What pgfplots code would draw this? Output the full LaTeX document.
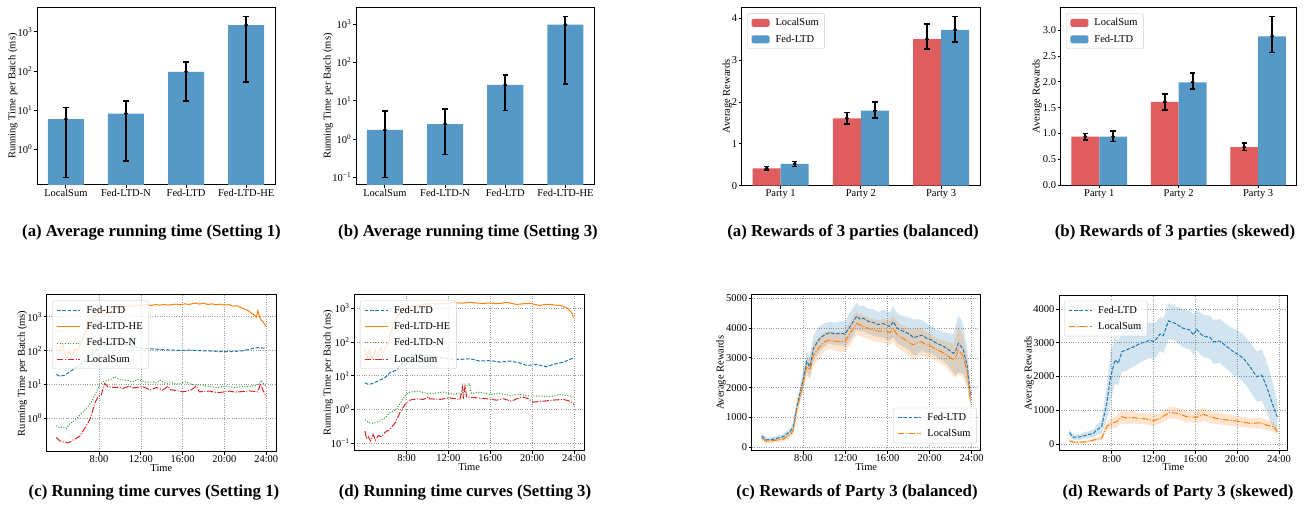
\documentclass[border=0pt]{standalone}
\usepackage{fontspec}
\setmainfont{Liberation Serif}
\usepackage{pgfplots}
\usepackage{pgfplotstable}
\pgfplotsset{compat=1.18}
\newcommand\tfont{\fontsize{10.5}{12}\selectfont}
\newcommand\capfont{\fontsize{16.8}{19}\selectfont\bfseries}
\definecolor{tabblue}{RGB}{31,119,180}
\definecolor{taborange}{RGB}{255,127,14}
\definecolor{tabgreen}{RGB}{44,160,44}
\definecolor{tabred}{RGB}{214,39,40}
\definecolor{barblue}{RGB}{86,152,198}
\definecolor{barred}{RGB}{223,93,94}
\tikzset{
  ldash/.style={dash pattern=on 3.7pt off 1.6pt},
  ldot/.style={dash pattern=on 1pt off 1.65pt},
  ldashdot/.style={dash pattern=on 6.4pt off 1.6pt on 1pt off 1.6pt},
}
\pgfplotsset{
  myax/.style={
    scale only axis, anchor=south west,
    axis line style={line width=1pt, black},
    tick align=outside, major tick length=3pt, minor tick length=0pt,
    xtick pos=left, ytick pos=left,
    tick style={black, line width=0.8pt},
    ticklabel style={font=\tfont},
    xticklabel style={inner sep=1pt},
    yticklabel style={inner sep=1.5pt},
    label style={font=\tfont},
    /pgf/number format/assume math mode=true,
    /pgf/number format/1000 sep={},
    legend cell align=left,
    legend style={font=\tfont, draw=black!20, rounded corners=2pt, fill=white,
      fill opacity=0.8, draw opacity=1, text opacity=1, inner xsep=4pt, inner ysep=3pt,
      row sep=3.6pt, column sep=4pt},
  },
  lineleg/.style={legend image code/.code={\draw[##1] (0pt,0pt) -- (23pt,0pt);}},
  errline/.style={black, line width=1.9pt, unbounded coords=jump, forget plot},
  errcap/.style={black, only marks, mark=-, mark size=2.7pt, mark options={line width=1.6pt}, forget plot},
  errdot/.style={black, only marks, mark=*, mark size=1.7pt, forget plot},
  mygrid/.style={grid=major, grid style={dash pattern=on 1pt off 1.4pt, black!40, line width=0.6pt}},
}

\pgfplotstableread{
t m
4.04 380
4.51 246
5.15 270
6.10 360
6.73 525
7.05 690
7.37 1360
7.84 2035
8.32 2875
8.63 2700
8.95 3320
9.58 3660
10.05 3780
10.53 3850
11.00 3800
11.49 3825
11.96 3800
12.44 4050
13.07 4400
13.40 4300
13.70 4330
14.20 4220
14.65 4185
15.10 4120
15.60 4150
16.24 4050
16.55 4215
16.90 4000
17.19 3940
17.65 3870
18.14 3790
18.45 3680
18.77 3710
19.25 3760
19.72 3660
20.20 3600
20.67 3490
21.15 3420
21.62 3320
22.26 3150
22.50 3250
22.73 3490
23.00 3380
23.21 3270
23.59 2700
23.90 1700
}\fedseven
\pgfplotstableread{
t m
4.04 300
4.51 190
5.15 225
6.10 270
6.73 415
7.05 560
7.37 1250
7.84 1925
8.32 2700
8.63 2600
8.95 3100
9.58 3380
10.05 3550
10.53 3600
11.00 3560
11.49 3545
11.96 3550
12.44 3825
13.07 4160
13.40 4100
13.70 4050
14.20 3990
14.65 3940
15.10 3900
15.60 3900
16.24 3850
16.55 3990
16.90 3780
17.19 3710
17.65 3620
18.14 3490
18.45 3440
18.77 3500
19.25 3540
19.72 3435
20.20 3380
20.67 3270
21.15 3200
21.62 3100
22.26 2930
22.50 3050
22.73 3270
23.00 3150
23.21 3040
23.59 2480
23.90 1530
}\locseven
\pgfplotstableread{
t m
3.95 335
4.33 200
4.97 215
5.61 265
6.25 315
6.57 420
7.04 515
7.52 1200
7.90 2000
8.32 2490
8.64 2390
8.96 2735
9.35 2780
9.75 2835
10.25 2900
10.71 2980
11.20 3020
11.67 3080
11.98 3030
12.30 3120
12.62 3260
12.94 3210
13.42 3650
14.06 3575
14.45 3500
14.85 3425
15.49 3380
15.81 3230
16.13 3400
16.45 3280
16.76 3200
17.40 3160
17.72 3030
18.36 3050
19.00 2885
19.63 2735
20.10 2650
20.59 2540
21.23 2290
21.86 1995
22.34 2045
22.82 1700
23.46 1105
23.84 800
}\fedeight
\pgfplotstableread{
t m
3.95 90
4.65 40
5.61 70
6.57 140
7.04 170
7.52 515
7.90 610
8.48 660
8.96 810
9.35 770
9.75 790
10.71 760
11.30 740
11.98 690
12.62 760
13.10 860
13.58 930
14.22 910
15.17 810
15.60 800
16.13 790
16.76 880
17.40 810
18.00 760
18.68 730
19.30 700
19.95 680
20.60 650
21.23 610
22.18 630
22.82 560
23.46 515
23.84 365
}\loceight

\begin{document}
\begin{tikzpicture}
\useasboundingbox (0pt,0pt) rectangle (1304pt,506pt);

% ================= Plot 1 =================
\begin{axis}[myax, at={(37pt,321pt)}, width=238pt, height=177.7pt,
  xmin=-0.48, xmax=3.48, ymode=log, log basis y=10, ymin=0.123, ymax=4200, log origin y=infty,
  xtick={0,1,2,3}, xticklabels={LocalSum,Fed-LTD-N,Fed-LTD,Fed-LTD-HE},
  ytick={1,10,100,1000}, yticklabels={10\textsuperscript{0},10\textsuperscript{1},10\textsuperscript{2},10\textsuperscript{3}},
  ylabel={Running Time per Batch (ms)}, ylabel style={at={(axis description cs:-0.101,0.5)}, anchor=center}]
\addplot[ybar, bar width=0.6, fill=barblue, draw=none] coordinates {(0,5.9) (1,8.2) (2,95) (3,1480)};
\addplot[errline] coordinates {(0,0.19) (0,11.7) (0,nan) (1,0.5) (1,17) (1,nan) (2,17) (2,170) (2,nan) (3,52) (3,2450)};
\addplot[errcap] coordinates {(0,0.19) (0,11.7) (1,0.5) (1,17) (2,17) (2,170) (3,52) (3,2450)};
\addplot[errdot] coordinates {(0,5.9) (1,8.2) (2,95) (3,1480)};
\end{axis}

% ================= Plot 2 =================
\begin{axis}[myax, at={(356pt,321pt)}, width=238.3pt, height=177.7pt,
  xmin=-0.48, xmax=3.48, ymode=log, log basis y=10, ymin=0.063, ymax=2740, log origin y=infty,
  xtick={0,1,2,3}, xticklabels={LocalSum,Fed-LTD-N,Fed-LTD,Fed-LTD-HE},
  ytick={0.1,1,10,100,1000}, yticklabels={10\textsuperscript{−1},10\textsuperscript{0},10\textsuperscript{1},10\textsuperscript{2},10\textsuperscript{3}},
  ylabel={Running Time per Batch (ms)}, ylabel style={at={(axis description cs:-0.1175,0.5)}, anchor=center}]
\addplot[ybar, bar width=0.6, fill=barblue, draw=none] coordinates {(0,1.72) (1,2.46) (2,25.7) (3,960)};
\addplot[errline] coordinates {(0,0.098) (0,5.4) (0,nan) (1,0.39) (1,5.96) (1,nan) (2,5.6) (2,47) (2,nan) (3,27.7) (3,1580)};
\addplot[errcap] coordinates {(0,0.098) (0,5.4) (1,0.39) (1,5.96) (2,5.6) (2,47) (3,27.7) (3,1580)};
\addplot[errdot] coordinates {(0,1.72) (1,2.46) (2,25.7) (3,960)};
\end{axis}

% ================= Plot 3 =================
\begin{axis}[myax, at={(741.7pt,320.3pt)}, width=238.3pt, height=178.4pt,
  xmin=-0.485, xmax=2.485, ymin=0, ymax=4.26,
  xtick={0,1,2}, xticklabels={Party 1,Party 2,Party 3}, ytick={0,1,2,3,4},
  ylabel={Average Rewards}, ylabel style={at={(axis description cs:-0.06,0.5)}, anchor=center},
  legend style={at={(axis description cs:0.0235,0.966)}, anchor=north west}]
\addplot[ybar, bar width=0.35, bar shift=-0.175, fill=barred, draw=none,
  legend image code/.code={\fill[barred, fill opacity=1] (0pt,-4pt) rectangle (18pt,4pt);}] coordinates {(0,0.416) (1,1.61) (2,3.50)};
\addlegendentry{LocalSum}
\addplot[ybar, bar width=0.35, bar shift=0.175, fill=barblue, draw=none,
  legend image code/.code={\fill[barblue, fill opacity=1] (0pt,-4pt) rectangle (18pt,4pt);}] coordinates {(0,0.52) (1,1.79) (2,3.72)};
\addlegendentry{Fed-LTD}
\addplot[errline] coordinates {(-0.175,0.38) (-0.175,0.46) (-0.175,nan) (0.825,1.48) (0.825,1.75) (0.825,nan) (1.825,3.26) (1.825,3.86) (1.825,nan) (0.175,0.46) (0.175,0.58) (0.175,nan) (1.175,1.61) (1.175,2.0) (1.175,nan) (2.175,3.43) (2.175,4.04)};
\addplot[errcap] coordinates {(-0.175,0.38) (-0.175,0.46) (0.825,1.48) (0.825,1.75) (1.825,3.26) (1.825,3.86) (0.175,0.46) (0.175,0.58) (1.175,1.61) (1.175,2.0) (2.175,3.43) (2.175,4.04)};
\addplot[errdot] coordinates {(-0.175,0.416) (0.825,1.61) (1.825,3.50) (0.175,0.52) (1.175,1.79) (2.175,3.72)};
\node[font=\fontsize{9.5}{11}\selectfont, anchor=base west, inner sep=0pt] at (rel axis cs:0,1) [yshift=0.6pt] {1e5};
\end{axis}

% ================= Plot 4 =================
\begin{axis}[myax, at={(1060.7pt,320.7pt)}, width=236pt, height=178pt,
  xmin=-0.485, xmax=2.485, ymin=0, ymax=3.44,
  xtick={0,1,2}, xticklabels={Party 1,Party 2,Party 3}, ytick={0,0.5,1,1.5,2,2.5,3},
  yticklabel style={/pgf/number format/.cd, fixed, fixed zerofill, precision=1},
  ylabel={Average Rewards}, ylabel style={at={(axis description cs:-0.1,0.5)}, anchor=center},
  legend style={at={(axis description cs:0.0235,0.966)}, anchor=north west}]
\addplot[ybar, bar width=0.35, bar shift=-0.175, fill=barred, draw=none,
  legend image code/.code={\fill[barred, fill opacity=1] (0pt,-4pt) rectangle (18pt,4pt);}] coordinates {(0,0.94) (1,1.61) (2,0.74)};
\addlegendentry{LocalSum}
\addplot[ybar, bar width=0.35, bar shift=0.175, fill=barblue, draw=none,
  legend image code/.code={\fill[barblue, fill opacity=1] (0pt,-4pt) rectangle (18pt,4pt);}] coordinates {(0,0.94) (1,1.99) (2,2.88)};
\addlegendentry{Fed-LTD}
\addplot[errline] coordinates {(-0.175,0.88) (-0.175,1.0) (-0.175,nan) (0.825,1.46) (0.825,1.77) (0.825,nan) (1.825,0.67) (1.825,0.82) (1.825,nan) (0.175,0.85) (0.175,1.05) (0.175,nan) (1.175,1.86) (1.175,2.17) (1.175,nan) (2.175,2.57) (2.175,3.26)};
\addplot[errcap] coordinates {(-0.175,0.88) (-0.175,1.0) (0.825,1.46) (0.825,1.77) (1.825,0.67) (1.825,0.82) (0.175,0.85) (0.175,1.05) (1.175,1.86) (1.175,2.17) (2.175,2.57) (2.175,3.26)};
\addplot[errdot] coordinates {(-0.175,0.94) (0.825,1.61) (1.825,0.74) (0.175,0.94) (1.175,1.99) (2.175,2.88)};
\node[font=\fontsize{9.5}{11}\selectfont, anchor=base west, inner sep=0pt] at (rel axis cs:0,1) [yshift=0.6pt] {1e5};
\end{axis}

% ================= Plot 5 =================
\begin{axis}[myax, mygrid, lineleg, at={(46.7pt,54.3pt)}, width=229.3pt, height=156.7pt,
  xmin=3, xmax=24.93, ymode=log, log basis y=10, ymin=0.105, ymax=4370,
  xtick={8,12,16,20,24}, xticklabels={8:00,12:00,16:00,20:00,24:00},
  ytick={1,10,100,1000}, yticklabels={10\textsuperscript{0},10\textsuperscript{1},10\textsuperscript{2},10\textsuperscript{3}},
  xlabel={Time}, xlabel style={at={(axis description cs:0.5,-0.102)}, anchor=center},
  ylabel={Running Time per Batch (ms)}, ylabel style={at={(axis description cs:-0.106,0.5)}, anchor=center},
  legend style={at={(axis description cs:0.0245,0.964)}, anchor=north west}]
\addplot[tabblue, ldash, line width=1pt] coordinates {(3.92,20) (4.24,17.7) (4.72,18.9) (5.2,23.8) (5.83,32) (6.47,44) (7.1,66) (7.59,93) (8.06,130) (8.7,163) (9.5,170) (10.3,156) (11.25,136) (12.2,116) (13.5,111) (14.3,106) (15.1,104) (15.9,101) (16.7,104) (17.5,100) (18.25,99) (19.05,96) (19.85,93) (20.8,94) (21.75,99) (22.3,108) (22.7,116) (23.35,124) (23.7,119) (24,116)};
\addlegendentry{Fed-LTD}
\addplot[taborange, line width=1pt] coordinates {(3.92,130) (4.08,105) (4.24,93) (4.4,140) (4.56,163) (4.72,80) (4.88,59) (5.04,85) (5.2,93) (5.36,68) (5.52,74) (5.68,105) (5.83,116) (6.0,95) (6.15,145) (6.31,180) (6.47,229) (6.63,300) (6.79,400) (6.95,520) (7.1,635) (7.35,800) (7.59,1000) (7.8,1150) (8.06,1250) (8.4,1450) (8.7,1580) (9.1,1700) (9.5,1750) (9.9,1850) (10.3,1970) (10.8,2000) (11.25,2050) (11.7,2150) (12.2,2200) (12.6,2250) (13.0,2150) (13.4,2280) (13.8,2200) (14.2,2300) (14.6,2200) (15.0,2280) (15.4,2350) (15.8,2250) (16.2,2400) (16.6,2300) (17.0,2450) (17.3,2550) (17.6,2350) (18.0,2500) (18.4,2300) (18.8,2400) (19.2,2250) (19.6,2350) (20.0,2200) (20.4,2280) (20.8,2050) (21.2,2100) (21.6,1850) (22.0,1650) (22.3,1500) (22.6,1250) (22.9,1100) (23.05,950) (23.2,1500) (23.35,1000) (23.5,800) (23.7,700) (24,510)};
\addlegendentry{Fed-LTD-HE}
\addplot[tabgreen, ldot, line width=1pt] coordinates {(3.92,0.61) (4.24,0.53) (4.56,0.57) (4.88,0.51) (5.2,0.71) (5.52,0.80) (5.83,0.95) (6.15,1.25) (6.47,1.55) (6.79,1.97) (7.27,3.1) (7.75,6.1) (8.06,9.6) (8.38,12.1) (8.86,13.5) (9.2,14.5) (9.5,17) (9.97,14.1) (10.6,13.5) (11.25,12.1) (11.7,14.1) (12.2,12.6) (12.7,11.5) (13.16,12.1) (13.5,11.2) (13.8,13.5) (14.4,10.8) (14.9,11.5) (15.4,10.3) (15.8,11.0) (16.3,12.1) (16.8,10.2) (17.3,9.6) (17.8,9.9) (18.25,9.0) (18.7,8.8) (19.2,8.2) (19.7,8.6) (20.2,9.0) (20.6,8.4) (21.1,8.2) (21.6,8.7) (22.1,8.6) (22.6,9.0) (23.03,9.6) (23.3,10.2) (23.5,12.6) (23.75,10.5) (24,8.6)};
\addlegendentry{Fed-LTD-N}
\addplot[tabred, ldashdot, line width=1pt] coordinates {(3.92,0.275) (4.24,0.22) (4.56,0.205) (5.04,0.19) (5.52,0.23) (5.83,0.26) (6.15,0.30) (6.63,0.51) (6.87,0.68) (7.1,0.89) (7.35,1.5) (7.59,2.8) (7.9,4.35) (8.22,4.9) (8.38,7.5) (8.54,10.8) (8.86,8.6) (9.5,8.2) (9.9,8.4) (10.3,7.7) (10.9,9.0) (11.2,8.0) (11.57,8.2) (12.2,8.6) (12.5,7.9) (12.84,6.9) (13.2,7.5) (13.5,8.2) (14.1,6.9) (14.6,9.0) (14.85,7.0) (15.1,6.9) (15.6,6.5) (16.0,6.1) (16.4,6.4) (16.8,6.9) (17.3,9.0) (17.6,6.1) (18.1,6.3) (18.6,6.4) (19.0,6.0) (19.5,5.8) (20.0,6.1) (20.5,6.4) (21.0,6.0) (21.4,6.1) (21.9,6.3) (22.4,6.5) (22.8,6.3) (23.2,6.1) (23.45,10.8) (23.67,6.9) (23.85,5.5) (24,4.2)};
\addlegendentry{LocalSum}
\end{axis}

% ================= Plot 6 =================
\begin{axis}[myax, mygrid, lineleg, at={(354.3pt,55.3pt)}, width=229.7pt, height=155.7pt,
  xmin=3, xmax=24.96, ymode=log, log basis y=10, ymin=0.06, ymax=2450,
  xtick={8,12,16,20,24}, xticklabels={8:00,12:00,16:00,20:00,24:00},
  ytick={0.1,1,10,100,1000}, yticklabels={10\textsuperscript{−1},10\textsuperscript{0},10\textsuperscript{1},10\textsuperscript{2},10\textsuperscript{3}},
  xlabel={Time}, xlabel style={at={(axis description cs:0.5,-0.103)}, anchor=center},
  ylabel={Running Time per Batch (ms)}, ylabel style={at={(axis description cs:-0.1145,0.5)}, anchor=center},
  legend style={at={(axis description cs:0.0245,0.964)}, anchor=north west}]
\addplot[tabblue, ldash, line width=1pt] coordinates {(4.02,6.2) (4.33,5.5) (4.8,5.9) (5.45,7.4) (5.93,8.7) (6.4,12.2) (7.04,14.6) (7.5,21.5) (8.0,30) (8.64,38) (9.27,42.6) (10.2,39.7) (11.2,34) (12.1,31.7) (13.1,30.3) (14.05,31.7) (15.0,27) (15.97,28.2) (16.9,25.2) (17.9,27) (18.8,24) (19.5,20) (20.4,21.5) (21.4,18.3) (22.0,21.5) (23.0,25.2) (23.6,30.3) (24.0,34)};
\addlegendentry{Fed-LTD}
\addplot[taborange, line width=1pt] coordinates {(4.02,60) (4.12,40) (4.24,34) (4.37,55) (4.5,60) (4.62,38) (4.75,30) (4.88,45) (5.0,57) (5.15,42) (5.3,36) (5.4,52) (5.5,67) (5.63,55) (5.77,48) (5.93,62) (6.09,75) (6.25,105) (6.4,148) (6.55,210) (6.7,295) (6.87,400) (7.04,520) (7.25,650) (7.5,810) (7.75,920) (8.0,1020) (8.5,1120) (8.96,1200) (9.6,1280) (10.2,1350) (10.8,1320) (11.5,1380) (12.1,1420) (12.8,1440) (13.4,1400) (14.05,1500) (14.6,1420) (15.3,1380) (16.0,1420) (16.6,1350) (17.1,1400) (17.56,1500) (18.0,1380) (18.5,1290) (19.2,1350) (19.8,1380) (20.3,1280) (20.75,1200) (21.2,1300) (21.7,1290) (22.2,1230) (22.66,1200) (23.0,1120) (23.3,1020) (23.55,880) (23.8,730) (23.97,520)};
\addlegendentry{Fed-LTD-HE}
\addplot[tabgreen, ldot, line width=1pt] coordinates {(4.02,0.5) (4.33,0.42) (4.8,0.385) (5.45,0.45) (5.93,0.57) (6.4,0.8) (7.04,1.0) (7.5,1.76) (7.94,2.78) (8.32,3.26) (8.96,3.5) (9.75,3.1) (10.55,2.97) (11.5,3.26) (12.46,2.78) (12.94,3.1) (13.26,2.78) (13.58,3.9) (13.74,4.9) (14.0,5.9) (14.2,2.97) (15.0,3.26) (15.97,2.78) (16.9,2.97) (17.9,2.6) (18.8,2.78) (19.8,2.48) (20.75,2.48) (21.7,2.37) (22.66,2.78) (23.3,2.6) (24.0,2.37)};
\addlegendentry{Fed-LTD-N}
\addplot[tabred, ldashdot, line width=1pt] coordinates {(4.02,0.228) (4.17,0.135) (4.33,0.16) (4.56,0.115) (4.8,0.18) (5.04,0.123) (5.3,0.17) (5.6,0.155) (5.93,0.21) (6.4,0.255) (6.9,0.40) (7.36,0.80) (7.84,1.4) (8.32,1.89) (8.96,2.07) (9.6,1.98) (10.1,2.37) (10.2,2.07) (11.2,1.98) (12.1,2.2) (13.1,1.98) (13.35,4.7) (13.42,2.07) (13.58,4.9) (13.74,2.37) (14.7,2.2) (15.65,2.07) (16.6,1.89) (17.25,2.07) (18.0,1.76) (19.0,2.37) (19.6,2.1) (20.1,1.65) (21.1,1.76) (22.0,1.89) (23.0,1.98) (23.6,1.76) (24.0,1.4)};
\addlegendentry{LocalSum}
\end{axis}

% ================= Plot 7 =================
\begin{axis}[myax, mygrid, lineleg, at={(751.7pt,55.3pt)}, width=229pt, height=155.7pt,
  xmin=3.09, xmax=24.86, ymin=-115, ymax=5110,
  xtick={8,12,16,20,24}, xticklabels={8:00,12:00,16:00,20:00,24:00},
  ytick={0,1000,2000,3000,4000,5000},
  xlabel={Time}, xlabel style={at={(axis description cs:0.5,-0.103)}, anchor=center},
  ylabel={Average Rewards}, ylabel style={at={(axis description cs:-0.134,0.5)}, anchor=center},
  legend style={at={(axis description cs:0.983,0.047)}, anchor=south east}]
\addplot[fill=tabblue, fill opacity=0.2, draw=none, forget plot] coordinates {(4.04,460)(4.51,316)(5.15,350)(6.10,450)(6.73,635)(7.05,840)(7.37,1560)(7.84,2315)(8.32,3205)(8.63,3080)(8.95,3740)(9.58,4080)(10.05,4160)(10.53,4210)(11.00,4180)(11.49,4225)(11.96,4220)(12.44,4530)(13.07,4850)(13.40,4720)(13.70,4760)(14.20,4640)(14.65,4635)(15.10,4540)(15.60,4620)(16.24,4530)(16.55,4735)(16.90,4500)(17.19,4440)(17.65,4390)(18.14,4350)(18.45,4280)(18.77,4310)(19.25,4280)(19.72,4160)(20.20,4060)(20.67,3940)(21.15,3900)(21.62,3840)(22.26,3800)(22.50,4100)(22.73,4440)(23.00,4280)(23.21,4070)(23.59,3300)(23.90,2000)
(23.90,1400)(23.59,2100)(23.21,2470)(23.00,2480)(22.73,2540)(22.50,2400)(22.26,2500)(21.62,2800)(21.15,2940)(20.67,3040)(20.20,3140)(19.72,3160)(19.25,3240)(18.77,3110)(18.45,3080)(18.14,3230)(17.65,3350)(17.19,3440)(16.90,3500)(16.55,3695)(16.24,3570)(15.60,3680)(15.10,3700)(14.65,3735)(14.20,3800)(13.70,3900)(13.40,3880)(13.07,3950)(12.44,3570)(11.96,3380)(11.49,3425)(11.00,3420)(10.53,3490)(10.05,3400)(9.58,3240)(8.95,2900)(8.63,2320)(8.32,2545)(7.84,1755)(7.37,1160)(7.05,540)(6.73,415)(6.10,270)(5.15,190)(4.51,176)(4.04,300)};
\addplot[fill=taborange, fill opacity=0.2, draw=none, forget plot] coordinates {(4.04,370)(4.51,250)(5.15,295)(6.10,350)(6.73,510)(7.05,690)(7.37,1420)(7.84,2165)(8.32,2980)(8.63,2920)(8.95,3460)(9.58,3740)(10.05,3870)(10.53,3900)(11.00,3880)(11.49,3885)(11.96,3910)(12.44,4225)(13.07,4540)(13.40,4460)(13.70,4420)(14.20,4350)(14.65,4320)(15.10,4260)(15.60,4300)(16.24,4260)(16.55,4430)(16.90,4210)(17.19,4140)(17.65,4060)(18.14,3970)(18.45,3950)(18.77,4010)(19.25,3980)(19.72,3865)(20.20,3770)(20.67,3650)(21.15,3610)(21.62,3540)(22.26,3480)(22.50,3770)(22.73,4070)(23.00,3910)(23.21,3720)(23.59,2990)(23.90,1790)
(23.90,1270)(23.59,1970)(23.21,2360)(23.00,2390)(22.73,2470)(22.50,2330)(22.26,2380)(21.62,2660)(21.15,2790)(20.67,2890)(20.20,2990)(19.72,3005)(19.25,3100)(18.77,2990)(18.45,2930)(18.14,3010)(17.65,3180)(17.19,3280)(16.90,3350)(16.55,3550)(16.24,3440)(15.60,3500)(15.10,3540)(14.65,3560)(14.20,3630)(13.70,3680)(13.40,3740)(13.07,3780)(12.44,3425)(11.96,3190)(11.49,3205)(11.00,3240)(10.53,3300)(10.05,3230)(9.58,3020)(8.95,2740)(8.63,2280)(8.32,2420)(7.84,1685)(7.37,1080)(7.05,430)(6.73,320)(6.10,190)(5.15,155)(4.51,130)(4.04,230)};
\addplot[tabblue, ldash, line width=1pt] table[x=t,y=m]{\fedseven};
\addlegendentry{Fed-LTD}
\addplot[taborange, ldashdot, line width=1pt] table[x=t,y=m]{\locseven};
\addlegendentry{LocalSum}
\end{axis}

% ================= Plot 8 =================
\begin{axis}[myax, mygrid, lineleg, at={(1059pt,55pt)}, width=228.7pt, height=156pt,
  xmin=2.96, xmax=24.83, ymin=-207, ymax=4415,
  xtick={8,12,16,20,24}, xticklabels={8:00,12:00,16:00,20:00,24:00},
  ytick={0,1000,2000,3000,4000},
  xlabel={Time}, xlabel style={at={(axis description cs:0.5,-0.103)}, anchor=center},
  ylabel={Average Rewards}, ylabel style={at={(axis description cs:-0.131,0.5)}, anchor=center},
  legend style={at={(axis description cs:0.022,0.963)}, anchor=north west}]
\addplot[fill=tabblue, fill opacity=0.2, draw=none, forget plot] coordinates {(3.95,435)(4.33,280)(4.97,305)(5.61,365)(6.25,435)(6.57,570)(7.04,715)(7.52,1700)(7.90,2700)(8.32,3190)(8.64,3040)(8.96,3335)(9.35,3400)(9.75,3435)(10.25,3480)(10.71,3540)(11.20,3560)(11.67,3600)(11.98,3570)(12.30,3640)(12.62,3760)(12.94,3730)(13.42,4170)(14.06,4095)(14.45,4040)(14.85,3985)(15.49,3960)(15.81,3830)(16.13,4000)(16.45,3900)(16.76,3820)(17.40,3800)(17.72,3680)(18.36,3700)(19.00,3545)(19.63,3415)(20.10,3350)(20.59,3240)(21.23,3010)(21.86,2735)(22.34,2805)(22.82,2450)(23.46,1755)(23.84,1250)
(23.84,350)(23.46,455)(22.82,950)(22.34,1285)(21.86,1255)(21.23,1570)(20.59,1840)(20.10,1950)(19.63,2055)(19.00,2225)(18.36,2400)(17.72,2380)(17.40,2520)(16.76,2580)(16.45,2660)(16.13,2800)(15.81,2630)(15.49,2800)(14.85,2865)(14.45,2960)(14.06,3055)(13.42,3130)(12.94,2690)(12.62,2760)(12.30,2600)(11.98,2490)(11.67,2560)(11.20,2480)(10.71,2420)(10.25,2320)(9.75,2235)(9.35,2160)(8.96,2135)(8.64,1740)(8.32,1790)(7.90,1300)(7.52,700)(7.04,315)(6.57,270)(6.25,195)(5.61,165)(4.97,125)(4.33,120)(3.95,235)};
\addplot[fill=taborange, fill opacity=0.2, draw=none, forget plot] coordinates {(3.95,130)(4.65,70)(5.61,105)(6.57,190)(7.04,230)(7.52,635)(7.90,760)(8.48,840)(8.96,1010)(9.35,960)(9.75,970)(10.71,930)(11.30,900)(11.98,850)(12.62,920)(13.10,1030)(13.58,1100)(14.22,1080)(15.17,980)(15.60,960)(16.13,960)(16.76,1080)(17.40,990)(18.00,930)(18.68,890)(19.30,860)(19.95,830)(20.60,800)(21.23,760)(22.18,790)(22.82,710)(23.46,655)(23.84,465)
(23.84,265)(23.46,375)(22.82,410)(22.18,470)(21.23,460)(20.60,500)(19.95,530)(19.30,540)(18.68,570)(18.00,590)(17.40,630)(16.76,680)(16.13,620)(15.60,640)(15.17,640)(14.22,740)(13.58,760)(13.10,690)(12.62,600)(11.98,530)(11.30,580)(10.71,590)(9.75,610)(9.35,580)(8.96,610)(8.48,480)(7.90,460)(7.52,395)(7.04,110)(6.57,90)(5.61,35)(4.65,10)(3.95,50)};
\addplot[tabblue, ldash, line width=1pt] table[x=t,y=m]{\fedeight};
\addlegendentry{Fed-LTD}
\addplot[taborange, ldashdot, line width=1pt] table[x=t,y=m]{\loceight};
\addlegendentry{LocalSum}
\end{axis}

% ================= Captions =================
\node[font=\capfont, anchor=base] at (151.5pt,269.3pt) {(a) Average running time (Setting 1)};
\node[font=\capfont, anchor=base] at (468pt,269.3pt) {(b) Average running time (Setting 3)};
\node[font=\capfont, anchor=base] at (853pt,269.3pt) {(a) Rewards of 3 parties (balanced)};
\node[font=\capfont, anchor=base] at (1175pt,269.3pt) {(b) Rewards of 3 parties (skewed)};
\node[font=\capfont, anchor=base] at (154pt,9.3pt) {(c) Running time curves (Setting 1)};
\node[font=\capfont, anchor=base] at (465pt,9.3pt) {(d) Running time curves (Setting 3)};
\node[font=\capfont, anchor=base] at (857pt,9.3pt) {(c) Rewards of Party 3 (balanced)};
\node[font=\capfont, anchor=base] at (1178pt,9.3pt) {(d) Rewards of Party 3 (skewed)};
\end{tikzpicture}
\end{document}
